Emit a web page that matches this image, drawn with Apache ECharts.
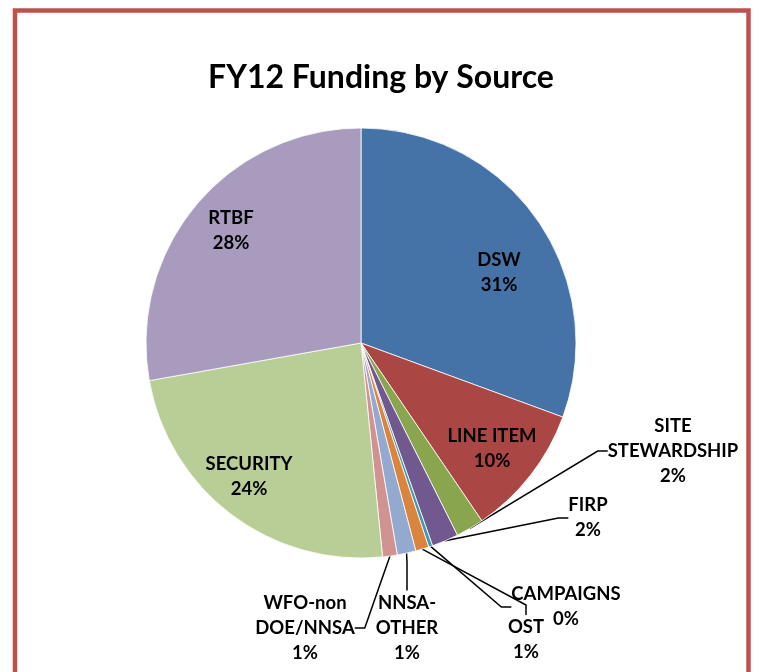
<!DOCTYPE html>
<html>
<head>
<meta charset="utf-8">
<script src="https://cdn.jsdelivr.net/npm/echarts@6/dist/echarts.min.js"></script>
<style>
  html, body { margin: 0; padding: 0; background: #fff; }
  #chart { width: 757px; height: 672px; }
</style>
</head>
<body>
<div id="chart"></div>
<script>
// data (share of FY12 funding, %)
const categories = ['DSW', 'LINE ITEM', 'SITE\nSTEWARDSHIP', 'FIRP', 'CAMPAIGNS', 'OST', 'NNSA-\nOTHER', 'WFO-non\nDOE/NNSA', 'SECURITY', 'RTBF'];
const shares = [30.6, 9.9, 2.1, 2.0, 0.3, 1.0, 1.4, 1.1, 23.8, 27.8];
const colors = ['#4572A7', '#AA4643', '#89A54E', '#71588F', '#4198AF', '#DB843D', '#93A9CF', '#D19392', '#B9CD96', '#A99BBD'];

// which labels sit outside with a leader line
const outside = [false, false, true, true, true, true, true, true, false, false];
// label centres, px (layout only)
const labelAt = [[499, 273], [492, 449], [673, 451], [588, 518], [566, 607], [526, 640], [407, 628], [305, 628], [249, 477], [231, 231]];

const font = "Lato, 'Liberation Sans', sans-serif";

const chart = echarts.init(document.getElementById('chart'), null, { renderer: 'canvas' });

const option = {
  animation: false,
  graphic: [
    {
      type: 'rect',
      shape: { x: 15, y: 10.5, width: 733.5, height: 720 },
      style: { fill: 'none', stroke: '#C0504D', lineWidth: 4.5 },
      silent: true
    },
    {
      type: 'text',
      x: 381,
      y: 78,
      style: {
        text: 'FY12 Funding by Source',
        fontFamily: font,
        fontWeight: 'bold',
        fontSize: 32,
        fill: '#000',
        align: 'center',
        verticalAlign: 'middle'
      }
    }
  ],
  series: [
    {
      type: 'pie',
      center: [361, 343],
      radius: [0, 215],
      startAngle: 90,
      clockwise: true,
      avoidLabelOverlap: false,
      itemStyle: { borderColor: '#fff', borderWidth: 0.8 },
      label: {
        show: true,
        color: '#000',
        fontFamily: font,
        fontWeight: 'bold',
        fontSize: 18.5,
        lineHeight: 25,
        align: 'center',
        formatter: p => p.name + '\n' + Math.round(p.percent) + '%'
      },
      labelLine: {
        lineStyle: { color: '#000', width: 1.5 },
        length: 10,
        length2: 10,
        minTurnAngle: 90
      },
      labelLayout: function (params) {
        const pos = labelAt[params.dataIndex];
        return { x: pos[0], y: pos[1], align: 'center', verticalAlign: 'middle' };
      },
      emphasis: { disabled: true },
      data: categories.map((name, i) => ({
        name: name,
        value: shares[i],
        itemStyle: { color: colors[i] },
        label: { position: outside[i] ? 'outside' : 'inside' },
        labelLine: { show: outside[i], length2: name === 'NNSA-\nOTHER' ? 28 : 10 }
      }))
    }
  ]
};

chart.setOption(option);
</script>
</body>
</html>
